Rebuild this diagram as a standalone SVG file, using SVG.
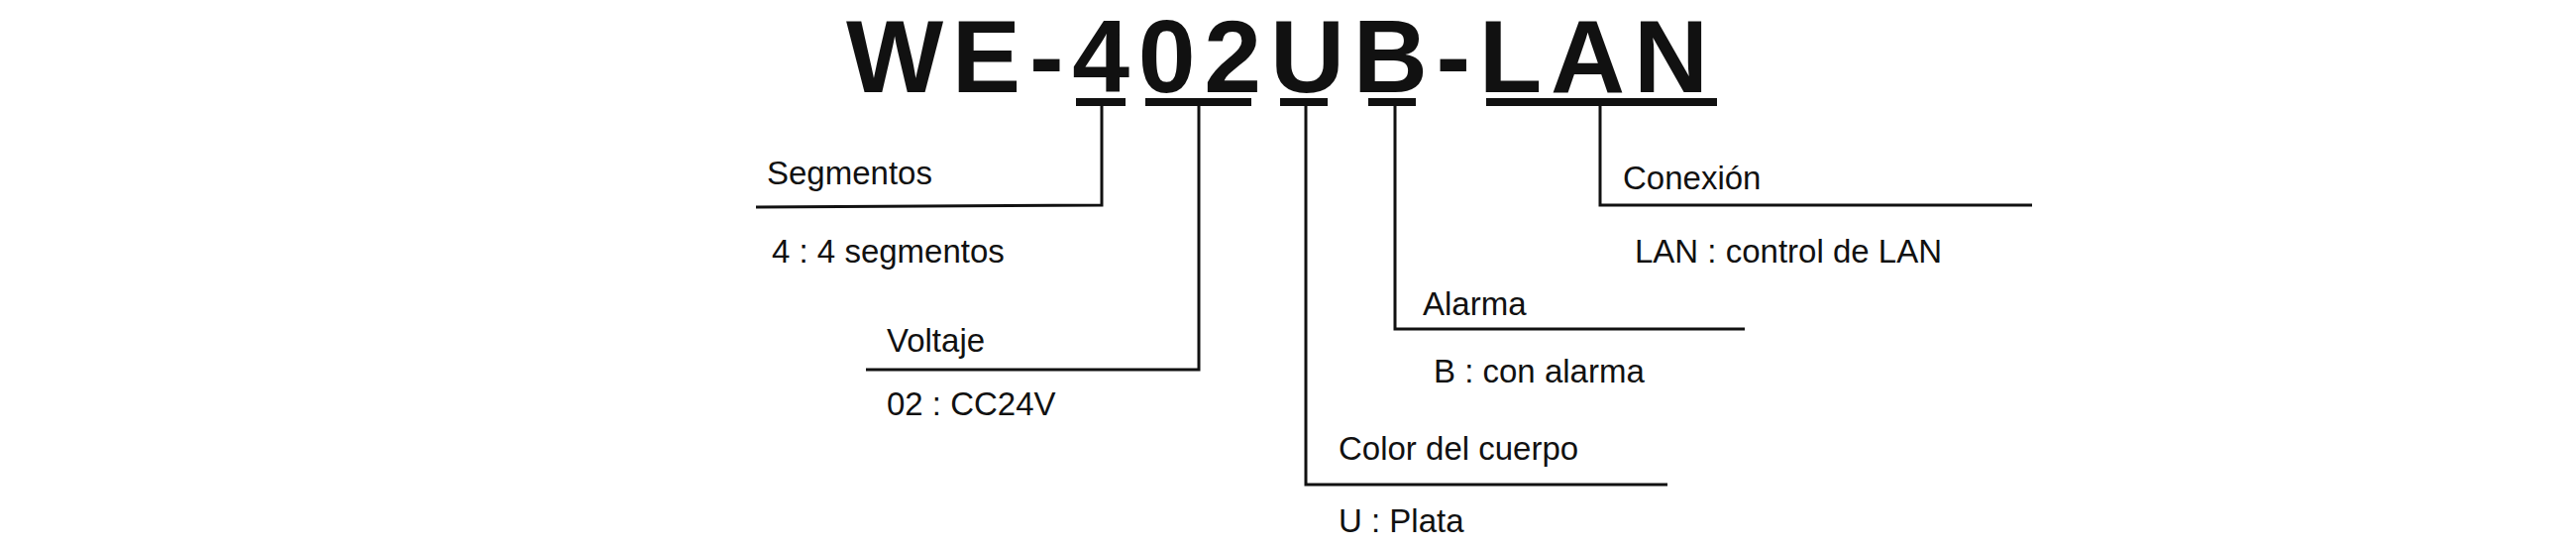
<svg xmlns="http://www.w3.org/2000/svg" width="2600" height="552" viewBox="0 0 2600 552">
<style>
.t{font-family:"Liberation Sans",Arial,sans-serif;font-size:33px;fill:#111}
.ul{stroke:#111;stroke-width:8;fill:none}
.c{stroke:#111;stroke-width:3;fill:none}
</style>
<rect width="2600" height="552" fill="#fff"/>
<g id="title"><text x="854" y="93" font-family="Liberation Sans,Arial,sans-serif" font-weight="bold" font-size="104" textLength="870" lengthAdjust="spacing" fill="#111">WE-402UB-LAN</text></g>
<g id="connectors">
<line class="ul" x1="1086" y1="103" x2="1136" y2="103"/>
<line class="ul" x1="1156" y1="103" x2="1263" y2="103"/>
<line class="ul" x1="1292" y1="103" x2="1340" y2="103"/>
<line class="ul" x1="1381" y1="103" x2="1429" y2="103"/>
<line class="ul" x1="1500" y1="103" x2="1733" y2="103"/>
<polyline class="c" points="1112,107 1112,207 763,209"/>
<polyline class="c" points="1210,107 1210,373 874,373"/>
<polyline class="c" points="1318,107 1318,489 1683,489"/>
<polyline class="c" points="1408,107 1408,332 1761,332"/>
<polyline class="c" points="1615,107 1615,207 2051,207"/>
</g>
<g id="segmentos"><text class="t" x="774" y="186">Segmentos</text><text class="t" x="779" y="265">4 : 4 segmentos</text></g>
<g id="voltaje"><text class="t" x="895" y="355">Voltaje</text><text class="t" x="895" y="419">02 : CC24V</text></g>
<g id="color"><text class="t" x="1351" y="464">Color del cuerpo</text><text class="t" x="1351" y="537">U : Plata</text></g>
<g id="alarma"><text class="t" x="1436" y="318">Alarma</text><text class="t" x="1447" y="386">B : con alarma</text></g>
<g id="conexion"><text class="t" x="1638" y="191">Conexión</text><text class="t" x="1650" y="265">LAN : control de LAN</text></g>
</svg>
